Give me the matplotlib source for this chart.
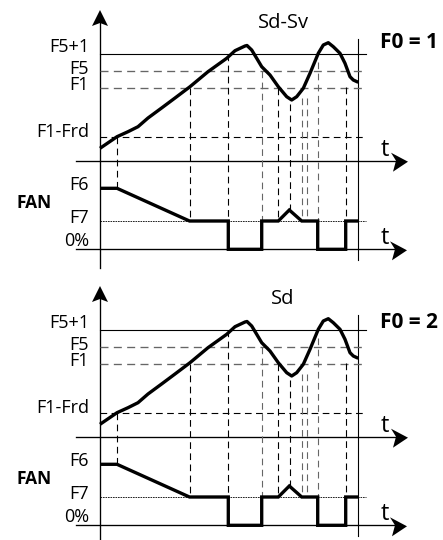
import matplotlib
matplotlib.use("Agg")
import matplotlib.pyplot as plt
from matplotlib.patches import Polygon

plt.rcParams['font.family'] = ['Open Sans', 'DejaVu Sans']

# ---------------- data (time units from the origin, values upward) ----------------
# probe thresholds (height above the upper time axis)
level_labels = ['F5+1', 'F5', 'F1', 'F1-Frd']
level_values = [106.4, 90.0, 73.0, 23.7]
# fan levels (height above the lower 0% axis)
fan_labels = ['F6', 'F7', '0%']
fan_values = [61.0, 28.3, 0.0]

# probe curve
curve_t = [0, 17, 28, 38, 48, 62, 75, 90, 108, 126.7, 135, 145, 147, 151.7, 156.7,
           161.7, 170, 178.3, 186.7, 191.7, 196.7, 203.3, 210, 218.3, 223.3,
           228.3, 233.3, 240, 245, 250, 253.3, 258.3]
curve_v = [12.4, 24.0, 29.0, 34.0, 42.7, 53.0, 62.7, 74.0, 89.0, 102.4, 110.0, 114.7,
           115.2, 110.7, 102.4, 94.0, 85.7, 74.0, 64.0, 60.7, 64.0, 72.4, 87.4,
           107.4, 115.7, 118.0, 114.0, 107.4, 97.4, 84.0, 80.7, 78.4]

# fan output
fan_t = [0, 17, 89.5, 128.3, 128.3, 161.7, 161.7, 178.3, 189.3, 201.7, 217.7, 217.7,
         245.7, 245.7, 258]
fan_v = [61.0, 61.0, 28.3, 28.3, 0.0, 0.0, 28.3, 28.3, 39.3, 28.3, 28.3, 0.0,
         0.0, 28.3, 28.3]

# vertical dashed guides: time, start (probe value), end (fan value)
guide_t = [17.3, 90, 128.3, 161.7, 178.3, 190.3, 201.7, 206.7, 218, 246]
guide_top = [23.7, 73.0, 106.4, 90.0, 73.0, 56.7, 62.4, 62.4, 99.0, 74.0]
guide_bottom = [61.0, 28.3, 28.3, 28.3, 28.3, 39.3, 28.3, 28.3, 28.3, 28.3]
guide_gray = [False, False, False, True, False, False, True, True, True, False]

panels = [
    {'title': 'Sd-Sv', 'mode': 'F0 = 1', 'rows': (0, 270), 'mode_dy': 0},
    {'title': 'Sd', 'mode': 'F0 = 2', 'rows': (276, 546), 'mode_dy': -4},
]

# ---------------- layout constants ----------------
W, H = 443, 540
TEMP0 = 88.6          # upper time axis height above the 0% axis
XEND = 266            # right end of the level lines
XR = 257.7            # right vertical marker
THICK = 2.4
THIN = 0.8
DASH = (0, (6, 4))
GRAY = '#666666'
FS = 13

fig = plt.figure(figsize=(W / 100, H / 100), dpi=100)


def arrow_right(ax, x_tip, y):
    ax.add_patch(Polygon([(x_tip, y - 1), (x_tip - 17, y + 8), (x_tip - 12, y),
                          (x_tip - 15, y - 11)], closed=True, color='black',
                         lw=0, clip_on=False))


def arrow_up(ax, x, y_tip):
    ax.add_patch(Polygon([(x, y_tip), (x - 8, y_tip - 16), (x, y_tip - 13),
                          (x + 8, y_tip - 16)], closed=True, color='black',
                         lw=0, clip_on=False))


for p in panels:
    r0, r1 = p['rows']
    ax = fig.add_axes([0, (H - r1) / H, 1, (r1 - r0) / H])
    ax.set_xlim(-100, W - 100)
    ax.set_ylim(-20.7, 249.3)
    ax.axis('off')

    # axes
    ax.plot([0, 0], [-18.7, 226], color='black', lw=THIN * 1.2, clip_on=False)
    arrow_up(ax, 0, 239.3)
    ax.plot([-24, 295], [TEMP0, TEMP0], color='black', lw=THIN * 1.2, clip_on=False)
    arrow_right(ax, 308, TEMP0)
    ax.plot([-24, 295], [0, 0], color='black', lw=THIN * 1.2, clip_on=False)
    arrow_right(ax, 307, 0)
    ax.plot([XR, XR], [-10.7, 210.3], color='black', lw=THIN, clip_on=False)

    # level lines
    for lab, v in zip(level_labels, level_values):
        if lab == 'F5+1':
            ax.plot([0, XEND], [TEMP0 + v] * 2, color='black', lw=THIN)
        elif lab == 'F1-Frd':
            ax.plot([0, XEND], [TEMP0 + v] * 2, color='black', lw=THIN, ls=DASH)
        else:
            ax.plot([0, XEND], [TEMP0 + v] * 2, color=GRAY, lw=THIN * 1.2, ls=DASH)
    ax.plot([0, XEND], [fan_values[1]] * 2, color='black', lw=0.6, ls=(0, (2, 1)))

    # guides
    for t, a, b, g in zip(guide_t, guide_top, guide_bottom, guide_gray):
        ax.plot([t, t], [TEMP0 + a, b], color=GRAY if g else 'black', lw=THIN,
                ls=DASH)

    # curves
    ax.plot(curve_t, [TEMP0 + v for v in curve_v], color='black', lw=THICK,
            solid_joinstyle='round', solid_capstyle='butt')
    ax.plot(fan_t, fan_v, color='black', lw=THICK, solid_joinstyle='miter',
            solid_capstyle='butt')

    # labels
    lab_off = [6.8, 2.2, 2.7, 5.0]
    for lab, v, o in zip(level_labels, level_values, lab_off):
        ax.text(-11, TEMP0 + v + o, lab, ha='right', va='center', fontsize=FS)
    fan_off = [3.8, 3.0, 8.8]
    for lab, v, o in zip(fan_labels, fan_values, fan_off):
        ax.text(-11, v + o, lab, ha='right', va='center', fontsize=FS)
    ax.text(-83, 45.8, 'FAN', ha='left', va='center', fontsize=12.5,
            fontweight='bold')
    ax.text(183, 226.3, p['title'], ha='center', va='center', fontsize=14.5)
    ax.text(280, 207.3 + p['mode_dy'], p['mode'], ha='left', va='center',
            fontsize=15, fontweight='bold')
    ax.text(285, TEMP0 + 11, 't', ha='center', va='center', fontsize=17)
    ax.text(285, 11.3, 't', ha='center', va='center', fontsize=17)

fig.savefig('out.png', dpi=100)
